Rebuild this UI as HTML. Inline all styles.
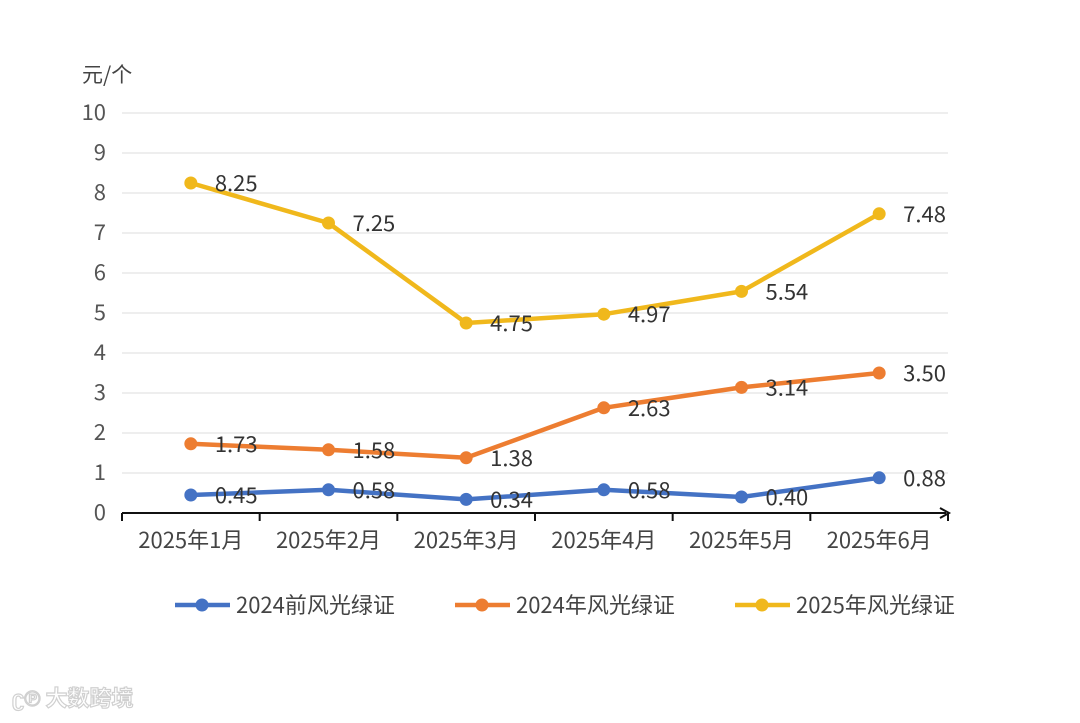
<!DOCTYPE html>
<html><head><meta charset="utf-8">
<style>
html,body{margin:0;padding:0;background:#fff;}
svg text{font-family:"Noto Sans CJK SC","Liberation Sans",sans-serif;}
</style></head>
<body>
<svg id="chart" width="1080" height="718" viewBox="0 0 1080 718" xmlns="http://www.w3.org/2000/svg">
<g id="grid"></g>
<g id="yticks"></g>
<g id="xaxis"></g>
<g id="series"></g>
<g id="legend"></g>
<text x="82" y="82" font-size="21" fill="#444">元/个</text>
<g opacity="0.9">
<text x="12" y="706" font-size="22" fill="#fff" stroke="#ccc" stroke-width="1.2" font-weight="bold">ʗ℗ 大数跨境</text>
</g>
</svg>
<script>
const categories=["2025年1月","2025年2月","2025年3月","2025年4月","2025年5月","2025年6月"];
const seriesNames=["2024前风光绿证","2024年风光绿证","2025年风光绿证"];
const seriesColors=["#4472c4","#ed7d31","#f0b81c"];
const s2024pre=[0.45,0.58,0.34,0.58,0.40,0.88];
const s2024=[1.73,1.58,1.38,2.63,3.14,3.50];
const s2025=[8.25,7.25,4.75,4.97,5.54,7.48];
const yTicks=[0,1,2,3,4,5,6,7,8,9,10];
const NS="http://www.w3.org/2000/svg";
const x0=122,x1=948,y0=513,yTop=113,yMax=10;
const band=(x1-x0)/categories.length;
function xs(i){return x0+band*(i+0.5);}
function ys(v){return y0-(v/yMax)*(y0-yTop);}
function mk(tag,attrs,parent){const e=document.createElementNS(NS,tag);for(const k in attrs)e.setAttribute(k,attrs[k]);parent.appendChild(e);return e;}
const grid=document.getElementById('grid'),yt=document.getElementById('yticks'),xa=document.getElementById('xaxis'),sg=document.getElementById('series'),lg=document.getElementById('legend');
yTicks.forEach(t=>{
 if(t>0){const l=mk('line',{x1:x0,x2:x1,y1:ys(t),y2:ys(t),stroke:'#e3e3e3','stroke-width':1.2},grid);
 
 }
 const tx=mk('text',{x:106,y:ys(t)+7,'text-anchor':'end','font-size':22,fill:'#555'},yt);
 tx.textContent=t;
 
 
});
const ax=mk('line',{x1:x0,x2:x1-2,y1:y0,y2:y0,stroke:'#111','stroke-width':2},xa);


const ar=mk('path',{d:`M${x1-8} ${y0-5} L${x1+1} ${y0} L${x1-8} ${y0+5}`,fill:'none',stroke:'#111','stroke-width':2},xa);


for(let i=0;i<=categories.length;i++){
 const tk=mk('line',{x1:x0+band*i,x2:x0+band*i,y1:y0,y2:y0+8,stroke:'#111','stroke-width':2},xa);
 
 
}
categories.forEach((c,i)=>{
 const t=mk('text',{x:xs(i),y:548,'text-anchor':'middle','font-size':22,fill:'#444'},xa);
 t.textContent=c;
 
 
});
[s2024pre,s2024,s2025].forEach((arr,si)=>{
 const g=mk('g',{},sg);
 
 
 const p=mk('polyline',{points:arr.map((v,i)=>xs(i)+','+ys(v)).join(' '),fill:'none',stroke:seriesColors[si],'stroke-width':4.5,'stroke-linejoin':'round'},g);
 
 
 arr.forEach((v,i)=>{
  const c=mk('circle',{cx:xs(i),cy:ys(v),r:6.5,fill:seriesColors[si]},g);
  
  
  const t=mk('text',{x:xs(i)+24,y:ys(v)+8,'font-size':22,fill:'#333'},g);
  t.textContent=v.toFixed(2);
  
  
 });
});
const lx=[175,455,735];
seriesNames.forEach((n,i)=>{
 const g=mk('g',{},lg);
 
 
 mk('line',{x1:lx[i],x2:lx[i]+55,y1:605,y2:605,stroke:seriesColors[i],'stroke-width':4.5},g);
 mk('circle',{cx:lx[i]+27,cy:605,r:6.5,fill:seriesColors[i]},g);
 const t=mk('text',{x:lx[i]+61,y:613,'font-size':22,fill:'#444'},g);
 t.textContent=n;
});
</script>
</body></html>
